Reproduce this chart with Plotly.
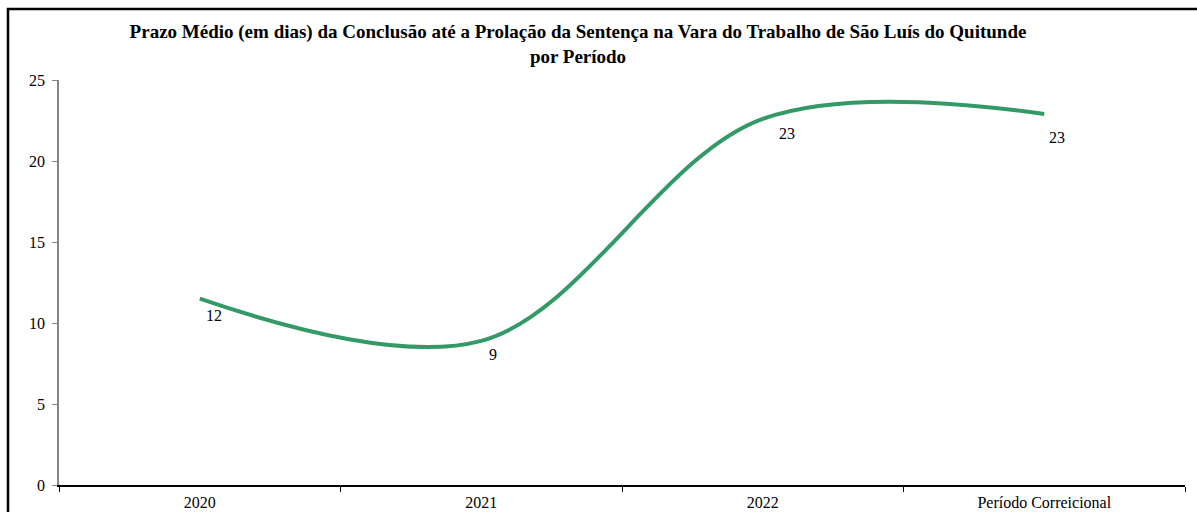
import plotly.graph_objects as go

categories = ["2020", "2021", "2022", "Período Correicional"]
prazo_medio = [11.5, 8.9, 22.6, 22.9]
y_ticks = [0, 5, 10, 15, 20, 25]
title_text = ("Prazo Médio (em dias) da Conclusão até a Prolação da Sentença na Vara do Trabalho de São Luís do Quitunde"
              "<br>por Período")

W, H = 1197, 512
L, R, T, B = 59, 12, 80, 27
plot_w = W - L - R
plot_h = H - T - B

fig = go.Figure()
fig.add_trace(go.Scatter(
    x=categories, y=prazo_medio, mode="lines",
    line=dict(color="#339966", width=4, shape="spline", smoothing=1.0),
    hoverinfo="x+y", showlegend=False,
))

label_shifts = [(14, -17), (12, -14), (24, -15), (13, -23)]
for i, (val, (dx, dy)) in enumerate(zip(prazo_medio, label_shifts)):
    fig.add_annotation(x=i, y=val, xref="x", yref="y", text=f"{int(val + 0.5):d}", showarrow=False,
                       xshift=dx, yshift=dy,
                       font=dict(family="Liberation Serif", size=16, color="black"))

def px_to_paper_x(px):
    return (px - L) / plot_w

def px_to_paper_y(py):
    return (H - B - py) / plot_h

fig.add_shape(type="rect", xref="paper", yref="paper",
              x0=px_to_paper_x(8), x1=px_to_paper_x(1205),
              y0=px_to_paper_y(525), y1=px_to_paper_y(9),
              line=dict(color="black", width=2.5), fillcolor="rgba(0,0,0,0)", layer="below")

fig.update_layout(
    width=W, height=H,
    margin=dict(l=L, r=R, t=T, b=B, autoexpand=False),
    paper_bgcolor="white", plot_bgcolor="white",
    title=dict(text=title_text, x=578 / W, xref="container", xanchor="center",
               y=1 - 38 / H, yanchor="top", automargin=False,
               font=dict(family="Liberation Serif", size=19, color="black", weight="bold")),
    font=dict(family="Liberation Serif", size=16, color="black"),
    xaxis=dict(type="category", range=[-0.5, 3.5], showgrid=False, zeroline=False,
               showline=True, linecolor="black", linewidth=1.5, automargin=False,
               ticks="outside", tickson="boundaries", ticklen=5, tickcolor="black",
               ticklabelstandoff=2,
               tickfont=dict(family="Liberation Serif", size=16, color="black")),
    yaxis=dict(range=[0, 25], tickvals=y_ticks, showgrid=False, zeroline=False,
               showline=True, linecolor="#868686", linewidth=1.5, automargin=False,
               ticks="outside", ticklen=5, tickcolor="#868686", ticklabelstandoff=4,
               tickfont=dict(family="Liberation Serif", size=16, color="black")),
)

fig.write_html("out.html", config={"displayModeBar": False},
               post_script="document.body.style.margin='0';document.body.style.overflow='hidden';")
